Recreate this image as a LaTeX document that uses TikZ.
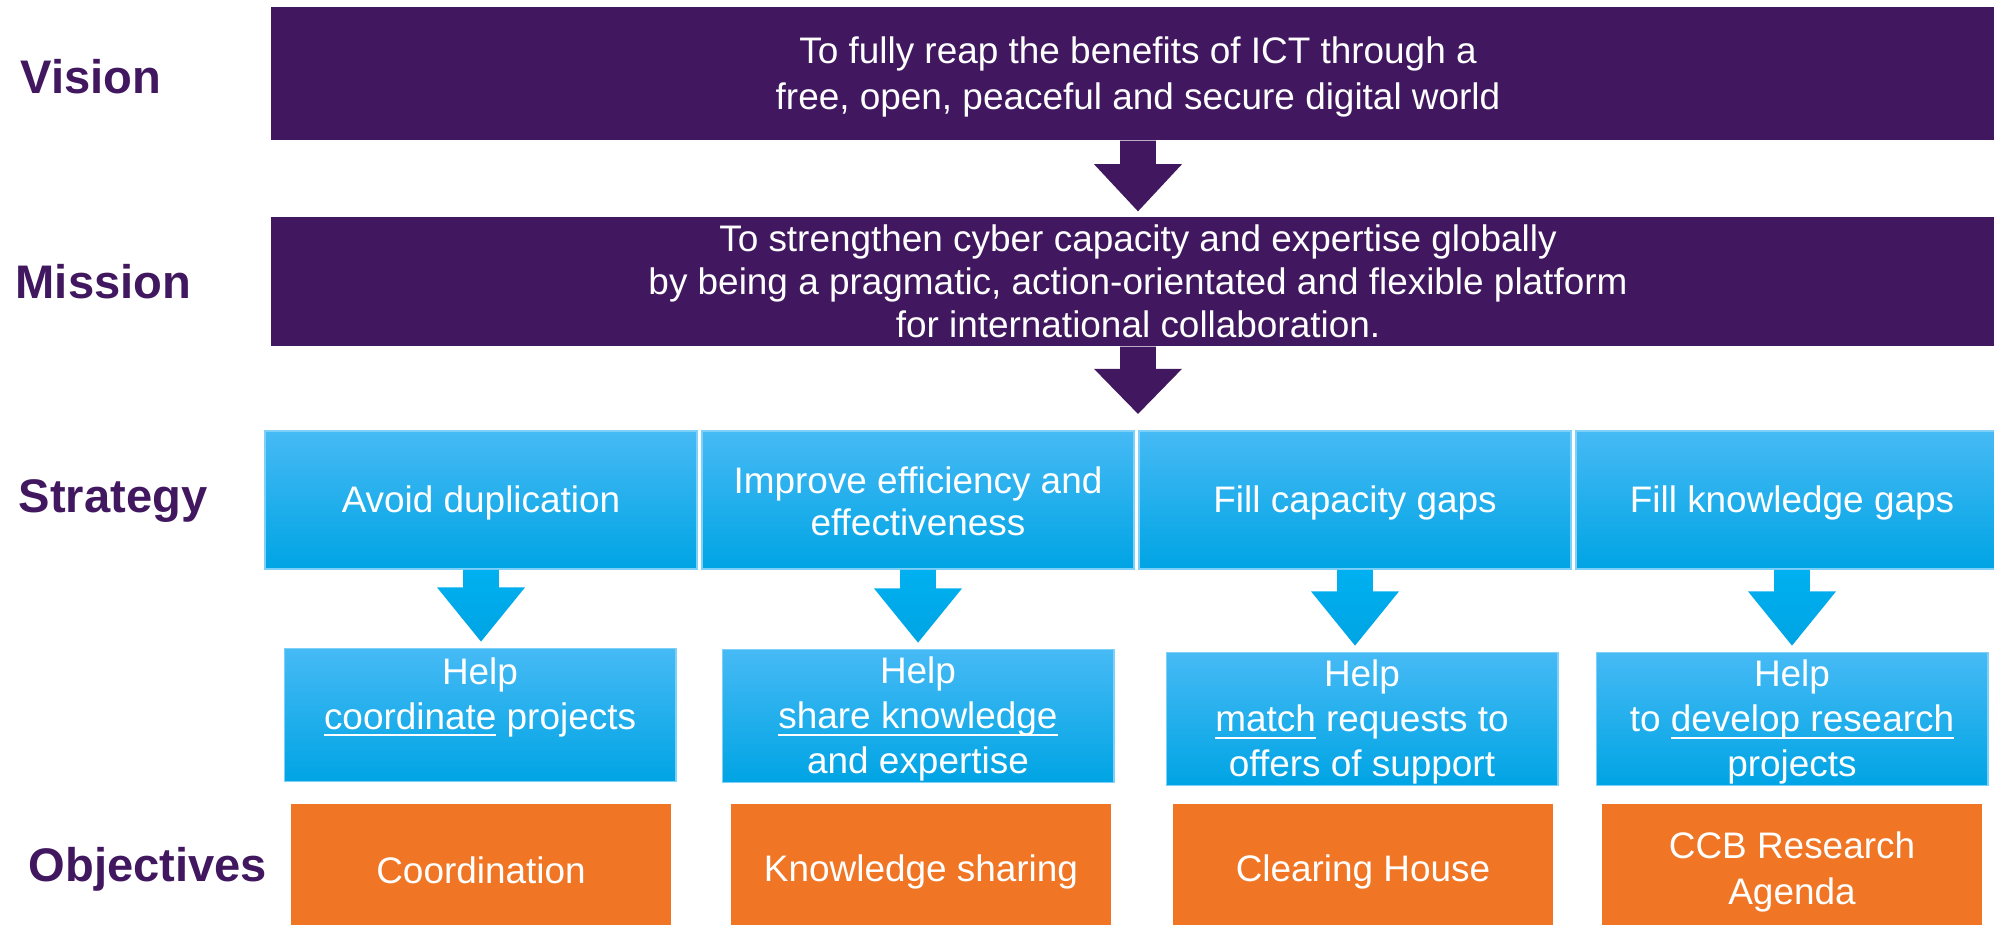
\documentclass[tikz,border=0pt]{standalone}
\usepackage{fontspec}
\setmainfont{Liberation Sans}
\usetikzlibrary{calc}
\definecolor{ccbpurple}{RGB}{65,24,95}
\definecolor{ccbcyantop}{RGB}{70,186,245}
\definecolor{ccbcyan}{RGB}{0,176,240}
\definecolor{ccbcyanbottom}{RGB}{0,164,228}
\definecolor{ccbcyanline}{RGB}{125,208,247}
\definecolor{ccborange}{RGB}{240,117,36}

\tikzset{
  bodytext/.style={font=\fontsize{10.5}{12.8}\selectfont, text=white, align=center, inner sep=0pt},
  headline/.style={font=\fontsize{13.4}{15}\selectfont\bfseries, text=ccbpurple, anchor=base west, inner sep=0pt},
  purplebox/.style={bodytext, fill=ccbpurple, minimum width=17.34cm},
  cyanbox/.style={bodytext, top color=ccbcyantop, middle color=ccbcyan, bottom color=ccbcyanbottom, draw=ccbcyanline, line width=0.5pt},
  orangebox/.style={bodytext, fill=ccborange, minimum width=3.8cm, minimum height=1.29cm},
  purplearrow/.style={fill=ccbpurple},
  cyanarrow/.style={top color=ccbcyan, bottom color=ccbcyanbottom},
}

% block arrow: style, from node, to node, gap before target, head length
\newcommand{\blockarrow}[5]{%
  \path[#1] let \p1=(#2.south), \p2=(#3.north) in
    (\x1-5.1pt,\y1) -- (\x1-5.1pt,\y2+#4+#5) -- (\x1-12.5pt,\y2+#4+#5)
    -- (\x1,\y2+#4) -- (\x1+12.5pt,\y2+#4+#5) -- (\x1+5.1pt,\y2+#4+#5)
    -- (\x1+5.1pt,\y1) -- cycle;}
% line strut like the slide font, and a tight underline
\newcommand{\ls}{\rule[-1.2pt]{0pt}{10.6pt}}
\newsavebox{\ccbulbox}
\newcommand{\ccbul}[1]{\sbox{\ccbulbox}{#1}\rlap{\rule[-2pt]{\wd\ccbulbox}{0.6pt}}\usebox{\ccbulbox}}

\begin{document}
\begin{tikzpicture}[x=0.01cm, y=-0.01cm]
    \useasboundingbox (0,0) rectangle (1994,924);
    \clip (0,0) rectangle (1994,924);

    % Row titles
    \node[headline] (vtitle) at (20,93) {Vision};
    \node[headline] (mtitle) at (15,298) {Mission};
    \node[headline] (stitle) at (18,512) {Strategy};
    \node[headline] (otitle) at (28,881) {Objectives};

    % Vision and mission
    \node[purplebox, minimum height=1.33cm, font=\fontsize{10.5}{13}\selectfont] (vision) at (1138,73.5)
      {\ls To fully reap the benefits of ICT through a\\ free, open, peaceful and secure digital world\ls};
    \node[purplebox, minimum height=1.29cm, font=\fontsize{10.5}{12.3}\selectfont] (mission) at (1138,281.5)
      {To strengthen cyber capacity and expertise globally\\ by being a pragmatic, action-orientated and flexible platform\\ for international collaboration.};
    \blockarrow{purplearrow}{vision}{mission}{1.4pt}{13.4pt}

    % Strategy
    \foreach \k/\x/\txt in {1/481/{Avoid duplication},
                            2/918/{Improve efficiency and\\ effectiveness},
                            3/1355/{Fill capacity gaps},
                            4/1792/{Fill knowledge gaps}} {
        \node[cyanbox, minimum width=4.32cm, minimum height=1.38cm, font=\fontsize{10.5}{12}\selectfont] (strat\k) at (\x,500) {\ls\txt\ls};
      }
    \blockarrow{purplearrow}{mission}{strat2}{4.6pt}{12.8pt}

    % Help boxes
    \foreach \k/\x/\y/\txt in {1/480/715/{Help\\ \ccbul{coordinate} projects\\ },
                               2/918/716/{Help\\ \ccbul{share knowledge}\\ and expertise},
                               3/1362/719/{Help\\ \ccbul{match} requests to\\ offers of support},
                               4/1792/719/{Help\\ to \ccbul{develop research}\\ projects}} {
        \node[cyanbox, minimum width=3.91cm, minimum height=1.33cm] (help\k) at (\x,\y) {\ls\txt\ls};
      }

    % Objectives
    \foreach \k/\x/\txt in {1/481/{Coordination},
                            2/921/{Knowledge sharing},
                            3/1363/{Clearing House},
                            4/1792/{CCB Research\\ Agenda}} {
        \node[orangebox, font=\fontsize{10.5}{13}\selectfont] (obj\k) at (\x,869) {\ls\txt\ls};
      }

    % Arrows strategy -> help
    \foreach \k in {1,...,4} {
        \blockarrow{cyanarrow}{strat\k}{help\k}{1.7pt}{15.4pt}
      }
  \end{tikzpicture}
\end{document}
